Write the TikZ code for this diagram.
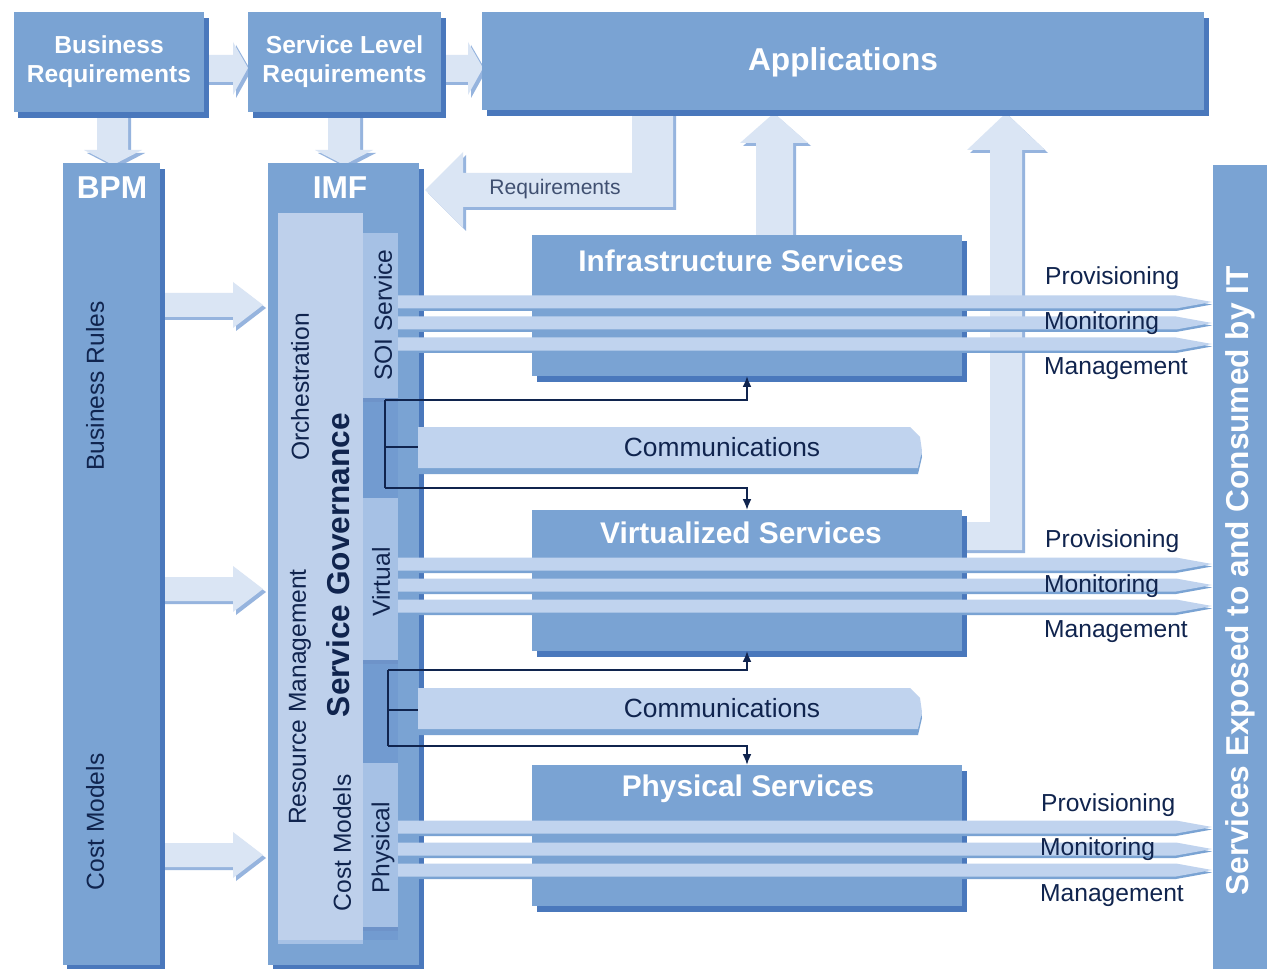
\documentclass[tikz,border=0pt]{standalone}
\usepackage{fontspec}
\setmainfont{Liberation Sans}
\usetikzlibrary{shadows,arrows.meta}
\definecolor{midblue}{RGB}{122,163,211}
\definecolor{edgeblue}{RGB}{74,120,188}
\definecolor{stripblue}{RGB}{114,155,208}
\definecolor{panelblue}{RGB}{190,208,235}
\definecolor{tabblue}{RGB}{166,193,229}
\definecolor{paleblue}{RGB}{218,229,244}
\definecolor{paleedge}{RGB}{150,180,222}
\definecolor{barblue}{RGB}{192,211,238}
\definecolor{navy}{RGB}{16,36,78}
\tikzset{
  sz/.style 2 args={minimum width={#1*0.02cm}, minimum height={#2*0.02cm}},
  blk/.style={fill=midblue, inner sep=0pt, text=white, align=center,
    font=\bfseries\fontsize{14}{16.5}\selectfont,
    general shadow={fill=edgeblue, shadow xshift=0.09cm, shadow yshift=-0.12cm}},
  ttl/.style={text=white, font=\bfseries\fontsize{18}{20}\selectfont},
  sub/.style={text=white, font=\bfseries\fontsize{17}{20}\selectfont},
  tab/.style={fill=tabblue, inner sep=0pt,
    general shadow={fill=edgeblue!80, shadow xshift=0cm, shadow yshift=-0.08cm}},
  pale/.style={fill=paleblue, general shadow={fill=paleedge, shadow xshift=0.06cm, shadow yshift=-0.06cm}},
  bar/.style={fill=barblue, general shadow={fill=midblue, shadow xshift=0cm, shadow yshift=-0.05cm}},
  comm/.style={fill=barblue, general shadow={fill=midblue, shadow xshift=0cm, shadow yshift=-0.12cm}},
  lbl/.style={text=navy, font=\fontsize{14}{16}\selectfont},
  lnk/.style={draw=navy, line width=0.7pt, -{Latex[length=6pt,width=5pt]}},
  tie/.style={draw=navy, line width=0.7pt}
}
\newcommand{\rightarrowblk}[1]{\fill[pale] (160,#1-12) -- (233,#1-12) -- (233,#1-23) -- (263,#1) -- (233,#1+23) -- (233,#1+12) -- (160,#1+12) -- cycle}
\newcommand{\flowbars}[1]{
  \foreach \yy in {#1} {
    \fill[bar] (398,\yy-6.5) -- (1176,\yy-6.5) -- (1212,\yy) -- (1176,\yy+6.5) -- (398,\yy+6.5) -- cycle;
  }
}
\newcommand{\commbar}[2]{
  \fill[comm] (418,#1) -- (910,#1) -- (920,#1+10) -- (922,#1+24) -- (918,#1+41) -- (418,#1+41) -- cycle;
  \node[lbl, font=\fontsize{15}{17}\selectfont] (#2) at (722,#1+20) {Communications};
}
\begin{document}
\begin{tikzpicture}[x=0.02cm, y=-0.02cm]
  \fill[white] (0,0) rectangle (1267,969);
  \useasboundingbox (0,0) rectangle (1267,969);

  % block arrows
  \fill[pale] (204,55) -- (233,55) -- (233,42) -- (248,68) -- (233,95) -- (233,82) -- (204,82) -- cycle;
  \fill[pale] (441,55) -- (468,55) -- (468,42) -- (483,68) -- (468,95) -- (468,82) -- (441,82) -- cycle;
  \fill[pale] (97,112) -- (128,112) -- (128,150) -- (142,150) -- (113,165) -- (84,150) -- (97,150) -- cycle;
  \fill[pale] (328,112) -- (360,112) -- (360,150) -- (373,150) -- (344,165) -- (315,150) -- (328,150) -- cycle;
  \fill[pale] (632,110) -- (673,110) -- (673,207) -- (463,207) -- (463,228) -- (425,190) -- (463,152) -- (463,173) -- (632,173) -- cycle;
  \fill[pale] (756,235) -- (756,143) -- (740,143) -- (774,113) -- (808,143) -- (793,143) -- (793,235) -- cycle;
  \fill[pale] (958,522) -- (990,522) -- (990,150) -- (967,150) -- (1006,113) -- (1045,150) -- (1022,150) -- (1022,550) -- (958,550) -- cycle;
  \foreach \yc in {305, 589, 855} {
    \rightarrowblk{\yc};
  }
  \node[text=navy!80, font=\fontsize{12}{14}\selectfont] (req) at (555,189) {Requirements};

  \node[blk, sz={190}{100}] (breq) at (109,62) {Business\\Requirements};
  \node[blk, sz={193}{100}] (slreq) at (344.5,62) {Service Level\\Requirements};
  \node[blk, sz={722}{98}] (apps) at (843,61) {};
  \node[ttl] (appst) at (843,62) {Applications};

  \node[blk, sz={97}{802}] (bpm) at (111.5,564) {};
  \node[ttl] (bpmt) at (112,188) {BPM};
  \node[lbl, rotate=90] (brules) at (95,386) {Business Rules};
  \node[lbl, rotate=90] (bcost) at (95,822) {Cost Models};

  \node[blk, sz={151}{802}] (imf) at (343.5,564) {};
  \node[ttl] (imft) at (340,188) {IMF};
  \node[fill=panelblue, inner sep=0pt, sz={85}{727}, general shadow={fill=tabblue, shadow xshift=0cm, shadow yshift=-0.08cm}] (gov) at (320.5,576.5) {};
  \node[fill=stripblue, inner sep=0pt, sz={35}{707}] (strip) at (380.5,586.5) {};
  \node[tab, sz={35}{165}] (soi) at (380.5,315.5) {};
  \node[tab, sz={35}{162}] (vtab) at (380.5,579) {};
  \node[tab, sz={35}{164}] (ptab) at (380.5,845) {};
  \node[lbl, rotate=90] (soit) at (383,315) {SOI Service};
  \node[lbl, rotate=90] (vtabt) at (381,582) {Virtual};
  \node[lbl, rotate=90] (ptabt) at (383,848) {Physical};
  \node[lbl, rotate=90] (orch) at (300,387) {Orchestration};
  \node[lbl, rotate=90, font=\bfseries\fontsize{18}{20}\selectfont] (govt) at (338,565) {Service Governance};
  \node[lbl, rotate=90] (resm) at (300,697) {Resource Management};
  \node[lbl, rotate=90] (icost) at (342,843) {Cost Models};

  \node[blk, sz={430}{141}] (infra) at (747,305.5) {};
  \node[sub] (infrat) at (741,261) {Infrastructure Services};
  \node[blk, sz={430}{141}] (virt) at (747,580.5) {};
  \node[sub] (virtt) at (741,533) {Virtualized Services};
  \node[blk, sz={430}{141}] (phys) at (747,835.5) {};
  \node[sub] (physt) at (748,789) {Physical Services};

  \commbar{427}{comm1}
  \commbar{688}{comm2}

  \node[fill=midblue, inner sep=0pt, sz={54}{804}] (svc) at (1240,567) {};
  \node[ttl, rotate=90] (svct) at (1240,581) {Services Exposed to and Consumed by IT};

  \flowbars{302, 323, 344}
  \flowbars{564, 585, 606}
  \flowbars{827, 849, 870}

  \foreach \yy/\tag in {0/a, 263/b} {
    \node[lbl, anchor=west] (prov\tag) at (1039,278+\yy) {Provisioning};
    \node[lbl, anchor=west] (mon\tag) at (1038,323+\yy) {Monitoring};
    \node[lbl, anchor=west] (man\tag) at (1038,369+\yy) {Management};
  }
  \node[lbl, anchor=west] (provc) at (1035,805) {Provisioning};
  \node[lbl, anchor=west] (monc) at (1034,849) {Monitoring};
  \node[lbl, anchor=west] (manc) at (1034,896) {Management};

  % links between the layers
  \coordinate (s1) at (385,400);
  \coordinate (m1) at (385,447);
  \coordinate (e1) at (385,488);
  \coordinate (c1) at (418,447);
  \draw[tie] (s1) -- (e1);
  \draw[tie] (m1) -- (c1);
  \draw[lnk] (s1) -| (infra.south);
  \draw[lnk] (e1) -| (virt.north);
  \coordinate (s2) at (388,670);
  \coordinate (m2) at (388,710);
  \coordinate (e2) at (388,746);
  \coordinate (c2) at (418,710);
  \draw[tie] (s2) -- (e2);
  \draw[tie] (m2) -- (c2);
  \draw[lnk] (s2) -| (virt.south);
  \draw[lnk] (e2) -| (phys.north);
\end{tikzpicture}
\end{document}
